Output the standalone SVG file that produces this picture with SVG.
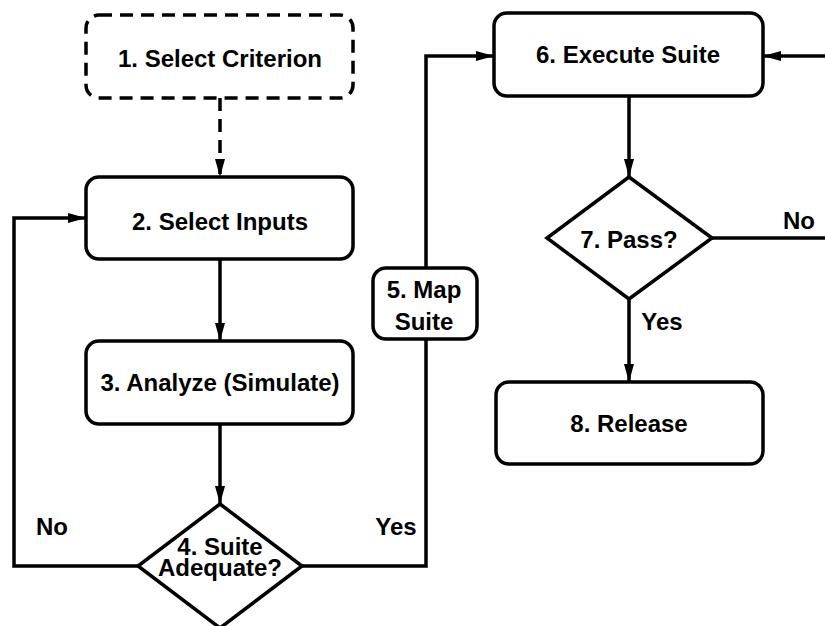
<svg xmlns="http://www.w3.org/2000/svg" width="825" height="626" viewBox="0 0 825 626">
<defs>
<style>
.box{fill:#fff;stroke:#000;stroke-width:3.5}
.dash{stroke-dasharray:13 8}
.ln{fill:none;stroke:#000;stroke-width:3.5}
text{font-family:"Liberation Sans",Arial,Helvetica,sans-serif;font-weight:bold;font-size:24px;fill:#000;text-anchor:middle}
</style>
<marker id="ah" viewBox="0 0 18 10" refX="18" refY="5" markerWidth="18" markerHeight="10" markerUnits="userSpaceOnUse" orient="auto">
<path d="M0,0 L18,5 L0,10 Z" fill="#000"/>
</marker>
</defs>
<rect width="825" height="626" fill="#fff"/>
<g id="connectors">
<path class="ln dash" d="M220,98 V177" marker-end="url(#ah)"/>
<path class="ln" d="M220,259 V341" marker-end="url(#ah)"/>
<path class="ln" d="M220,424 V504" marker-end="url(#ah)"/>
<path class="ln" d="M138,566 H14 V218 H86" marker-end="url(#ah)"/>
<path class="ln" d="M302,566 H426 V340"/>
<path class="ln" d="M426,268 V56 H494" marker-end="url(#ah)"/>
<path class="ln" d="M825,56 H763" marker-end="url(#ah)"/>
<path class="ln" d="M629,96 V177" marker-end="url(#ah)"/>
<path class="ln" d="M712,238 H825"/>
<path class="ln" d="M629,299 V382" marker-end="url(#ah)"/>
<text x="52" y="535">No</text>
<text x="396" y="535">Yes</text>
<text x="799" y="229">No</text>
<text x="662" y="330">Yes</text>
</g>
<g id="n1">
<rect class="box dash" x="86" y="15" width="267" height="83" rx="13"/>
<text x="220" y="67">1. Select Criterion</text>
</g>
<g id="n2">
<rect class="box" x="86" y="177" width="267" height="82" rx="13"/>
<text x="220" y="230">2. Select Inputs</text>
</g>
<g id="n3">
<rect class="box" x="86" y="341" width="267" height="83" rx="13"/>
<text x="220" y="391">3. Analyze (Simulate)</text>
</g>
<g id="n4">
<path class="box" d="M220,504 L302,566 L220,628 L138,566 Z"/>
<text x="220" y="555"><tspan x="220">4. Suite</tspan><tspan x="220" dy="21">Adequate?</tspan></text>
</g>
<g id="n5">
<rect class="box" x="373" y="268" width="104" height="71" rx="13"/>
<text x="424" y="298"><tspan x="424">5. Map</tspan><tspan x="424" dy="32">Suite</tspan></text>
</g>
<g id="n6">
<rect class="box" x="494" y="13" width="269" height="83" rx="13"/>
<text x="628" y="63">6. Execute Suite</text>
</g>
<g id="n7">
<path class="box" d="M629,177 L712,238 L629,299 L547,238 Z"/>
<text x="629" y="248">7. Pass?</text>
</g>
<g id="n8">
<rect class="box" x="496" y="382" width="267" height="82" rx="13"/>
<text x="629" y="432">8. Release</text>
</g>
</svg>
